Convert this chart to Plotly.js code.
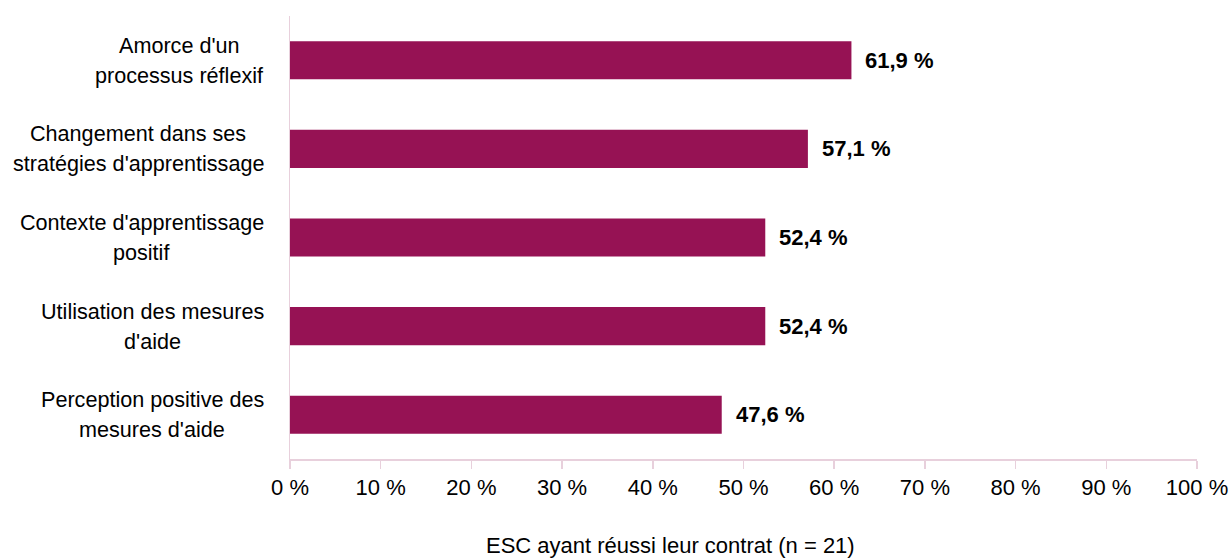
<!DOCTYPE html>
<html>
<head>
<meta charset="utf-8">
<script src="https://cdn.plot.ly/plotly-3.0.1.min.js"></script>
<style>html,body{margin:0;padding:0;background:#fff;}#chart{width:1230px;height:560px;}</style>
</head>
<body>
<div id="chart"></div>
<script>
const categories = [
  "Amorce d'un<br>processus réflexif",
  "Changement dans ses<br>stratégies d'apprentissage",
  "Contexte d'apprentissage<br>positif",
  "Utilisation des mesures<br>d'aide",
  "Perception positive des<br>mesures d'aide"
];
const values = [61.9, 57.1, 52.4, 52.4, 47.6];
const tickValues = [0, 10, 20, 30, 40, 50, 60, 70, 80, 90, 100];
const tickLabels = ["0 %", "10 %", "20 %", "30 %", "40 %", "50 %", "60 %", "70 %", "80 %", "90 %", "100 %"];
const axisTitle = "ESC ayant réussi leur contrat (n = 21)";

const fmt = v => v.toFixed(1).replace('.', ',') + ' %';
const FONT = 'Liberation Sans, Arial, sans-serif';
const LABEL_SIZE = 21.6;

const trace = {
  type: 'bar',
  orientation: 'h',
  x: values,
  y: categories,
  marker: {color: '#961254'},
  width: 0.43,
  hoverinfo: 'skip'
};

const canvas = document.createElement('canvas');
const ctx = canvas.getContext('2d');
ctx.font = LABEL_SIZE + 'px "Liberation Sans", Arial, sans-serif';

const annotations = [];
categories.forEach((c, i) => {
  annotations.push({
    x: values[i], y: c, xref: 'x', yref: 'y',
    text: '<b>' + fmt(values[i]) + '</b>',
    showarrow: false, xanchor: 'left', xshift: 12,
    font: {family: FONT, size: 22, color: '#000'}
  });
  const lines = c.split('<br>');
  const widths = lines.map(l => ctx.measureText(l).width);
  const maxW = Math.max(...widths);
  lines.forEach((ln, j) => {
    annotations.push({
      x: 0, y: c, xref: 'paper', yref: 'y',
      text: ln, showarrow: false, xanchor: 'right', yanchor: 'middle',
      xshift: -24 - (maxW - widths[j]) / 2,
      yshift: (lines.length - 1) * 15 - j * 30,
      font: {family: FONT, size: LABEL_SIZE, color: '#000'}
    });
  });
});
annotations.push({
  x: 0.419, y: 0, xref: 'paper', yref: 'paper',
  text: axisTitle, showarrow: false, xanchor: 'center', yanchor: 'top', yshift: -72,
  font: {family: FONT, size: 22, color: '#000'}
});

const layout = {
  width: 1230, height: 560,
  margin: {l: 290, r: 33, t: 16, b: 101},
  paper_bgcolor: '#fff', plot_bgcolor: '#fff',
  showlegend: false,
  font: {family: FONT, color: '#000'},
  xaxis: {
    range: [0, 100], tickvals: tickValues, ticktext: tickLabels,
    showgrid: false, zeroline: false,
    showline: true, linecolor: '#e8d0dc', linewidth: 1.5,
    ticks: 'outside', ticklen: 8, tickcolor: '#e8d0dc', tickwidth: 1.5,
    tickfont: {family: FONT, size: 22, color: '#000'},
    fixedrange: true
  },
  yaxis: {
    type: 'category', autorange: 'reversed',
    showticklabels: false, showgrid: false, zeroline: false,
    showline: true, linecolor: '#e8d0dc', linewidth: 1.5,
    ticks: '', fixedrange: true
  },
  annotations: annotations
};

Plotly.newPlot('chart', [trace], layout, {displayModeBar: false, staticPlot: true});
</script>
</body>
</html>
